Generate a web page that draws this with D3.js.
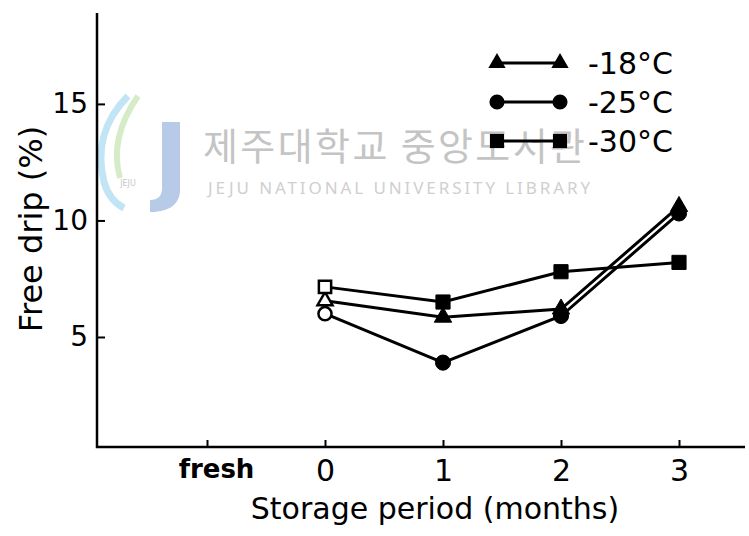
<!DOCTYPE html>
<html><head><meta charset="utf-8">
<script src="https://cdn.jsdelivr.net/npm/d3@7"></script>
<style>html,body{margin:0;padding:0;background:#fff;}svg{display:block;}</style>
</head><body>
<script>
// ---- data ----
const tickValues = [-1, 0, 1, 2, 3];
const tickLabels = ["fresh", "0", "1", "2", "3"];
const months = [0, 1, 2, 3];
const series18 = [6.55, 5.85, 6.2, 10.6];   // -18°C triangles
const series25 = [6.0, 3.9, 5.9, 10.3];     // -25°C circles
const series30 = [7.15, 6.5, 7.8, 8.2];     // -30°C squares
const seriesNames = ["-18°C", "-25°C", "-30°C"];
const yTicks = [5, 10, 15];
const xTitle = "Storage period (months)";
const yTitle = "Free drip (%)";
const wmKorean = "제주대학교 중앙도서관";
const wmEnglish = "JEJU NATIONAL UNIVERSITY  LIBRARY";

const W = 749, H = 536;
const svg = d3.select("body").append("svg").attr("width", W).attr("height", H);
const font = "DejaVu Sans, sans-serif";

// ---- watermark ----
const wm = svg.append("g").attr("opacity", 0.55);
wm.append("path").attr("d", "M128,96 C104,120 96,150 104,182 C108,196 116,204 124,208")
  .attr("fill", "none").attr("stroke", "#8fd0ee").attr("stroke-width", 7);
wm.append("path").attr("d", "M138,96 C120,122 112,150 120,178")
  .attr("fill", "none").attr("stroke", "#b5dd9a").attr("stroke-width", 6);
wm.append("path").attr("d", "M162,122 L180,122 L180,190 C180,205 168,212 150,212 L150,200 C158,200 162,196 162,188 Z")
  .attr("fill", "#7d9fd6");
wm.append("text").attr("x", 128).attr("y", 186).attr("text-anchor", "middle")
  .attr("font-family", font).attr("font-size", 8).attr("fill", "#999").text("JEJU");
svg.append("text").attr("x", 203).attr("y", 160)
  .attr("font-family", "Noto Sans CJK KR, sans-serif").attr("font-size", 38)
  .attr("fill", "#c4c4c4").attr("textLength", 382).text(wmKorean);
svg.append("text").attr("x", 208).attr("y", 194)
  .attr("font-family", "Noto Sans, sans-serif").attr("font-size", 17)
  .attr("fill", "#cfcfcf").attr("textLength", 382).text(wmEnglish);

// ---- scales ----
const x = d3.scaleLinear().domain([-1, 3]).range([207, 679]);
const y = d3.scaleLinear().domain([0.28, 18.9]).range([447, 13]);

// ---- axes ----
const axisY = d3.axisLeft(y).tickValues(yTicks).tickSizeInner(-8).tickSizeOuter(0).tickPadding(9);
const gy = svg.append("g").attr("transform", "translate(97,0)").call(axisY);
gy.select(".domain").remove();
gy.selectAll(".tick line").attr("stroke", "#000").attr("stroke-width", 2);
gy.selectAll(".tick text").attr("font-family", font).attr("font-size", 28).attr("fill", "#000");

const axisX = d3.axisBottom(x).tickValues(tickValues).tickFormat((d, i) => tickLabels[i])
  .tickSizeInner(-7).tickSizeOuter(0).tickPadding(13);
const gx = svg.append("g").attr("transform", "translate(0,447)").call(axisX);
gx.select(".domain").remove();
gx.selectAll(".tick line").attr("stroke", "#000").attr("stroke-width", 2);
gx.selectAll(".tick text").attr("font-family", font).attr("font-size", 30).attr("fill", "#000");
gx.selectAll(".tick text").filter((d, i) => i === 0).attr("font-size", 26).attr("font-weight", "bold").attr("dx", 9);

svg.append("path").attr("d", `M97,${y(18.9)} L97,447 L745,447`)
  .attr("fill", "none").attr("stroke", "#000").attr("stroke-width", 2.5);

// titles
svg.append("text").attr("x", 435).attr("y", 519).attr("text-anchor", "middle")
  .attr("font-family", font).attr("font-size", 30).text(xTitle);
svg.append("text").attr("transform", "translate(42,229) rotate(-90)").attr("text-anchor", "middle")
  .attr("font-family", font).attr("font-size", 32).text(yTitle);

// ---- series ----
const seriesList = [
  { vals: series18, sym: d3.symbolTriangle, size: 130 },
  { vals: series25, sym: d3.symbolCircle, size: 180 },
  { vals: series30, sym: d3.symbolSquare, size: 200 }
];
const line = d3.line().x(d => x(d.m)).y(d => y(d.v));
seriesList.forEach(s => {
  const pts = months.map((m, i) => ({ m, v: s.vals[i] }));
  svg.append("path").datum(pts).attr("d", line)
    .attr("fill", "none").attr("stroke", "#000").attr("stroke-width", 3);
});
seriesList.forEach(s => {
  const pts = months.map((m, i) => ({ m, v: s.vals[i] }));
  svg.selectAll(null).data(pts).enter().append("path")
    .attr("d", d3.symbol().type(s.sym).size(d => d.m === 0 ? s.size * 0.75 : s.size))
    .attr("transform", d => `translate(${x(d.m)},${y(d.v)})`)
    .attr("fill", d => d.m === 0 ? "#fff" : "#000")
    .attr("stroke", "#000").attr("stroke-width", d => d.m === 0 ? 2.5 : 1);
});

// ---- legend ----
const legY = d3.scalePoint().domain(seriesNames).range([63, 141]);
seriesList.forEach((s, i) => {
  const name = seriesNames[i];
  const yy = legY(name);
  svg.append("line").attr("x1", 497).attr("x2", 560).attr("y1", yy).attr("y2", yy)
    .attr("stroke", "#000").attr("stroke-width", 3);
  [497, 560].forEach(xx => {
    svg.append("path").attr("d", d3.symbol().type(s.sym).size(s.size))
      .attr("transform", `translate(${xx},${yy})`).attr("fill", "#000");
  });
  svg.append("text").attr("x", 588).attr("y", yy).attr("dy", "0.36em")
    .attr("font-family", font).attr("font-size", 30).text(name);
});
</script>
</body></html>
